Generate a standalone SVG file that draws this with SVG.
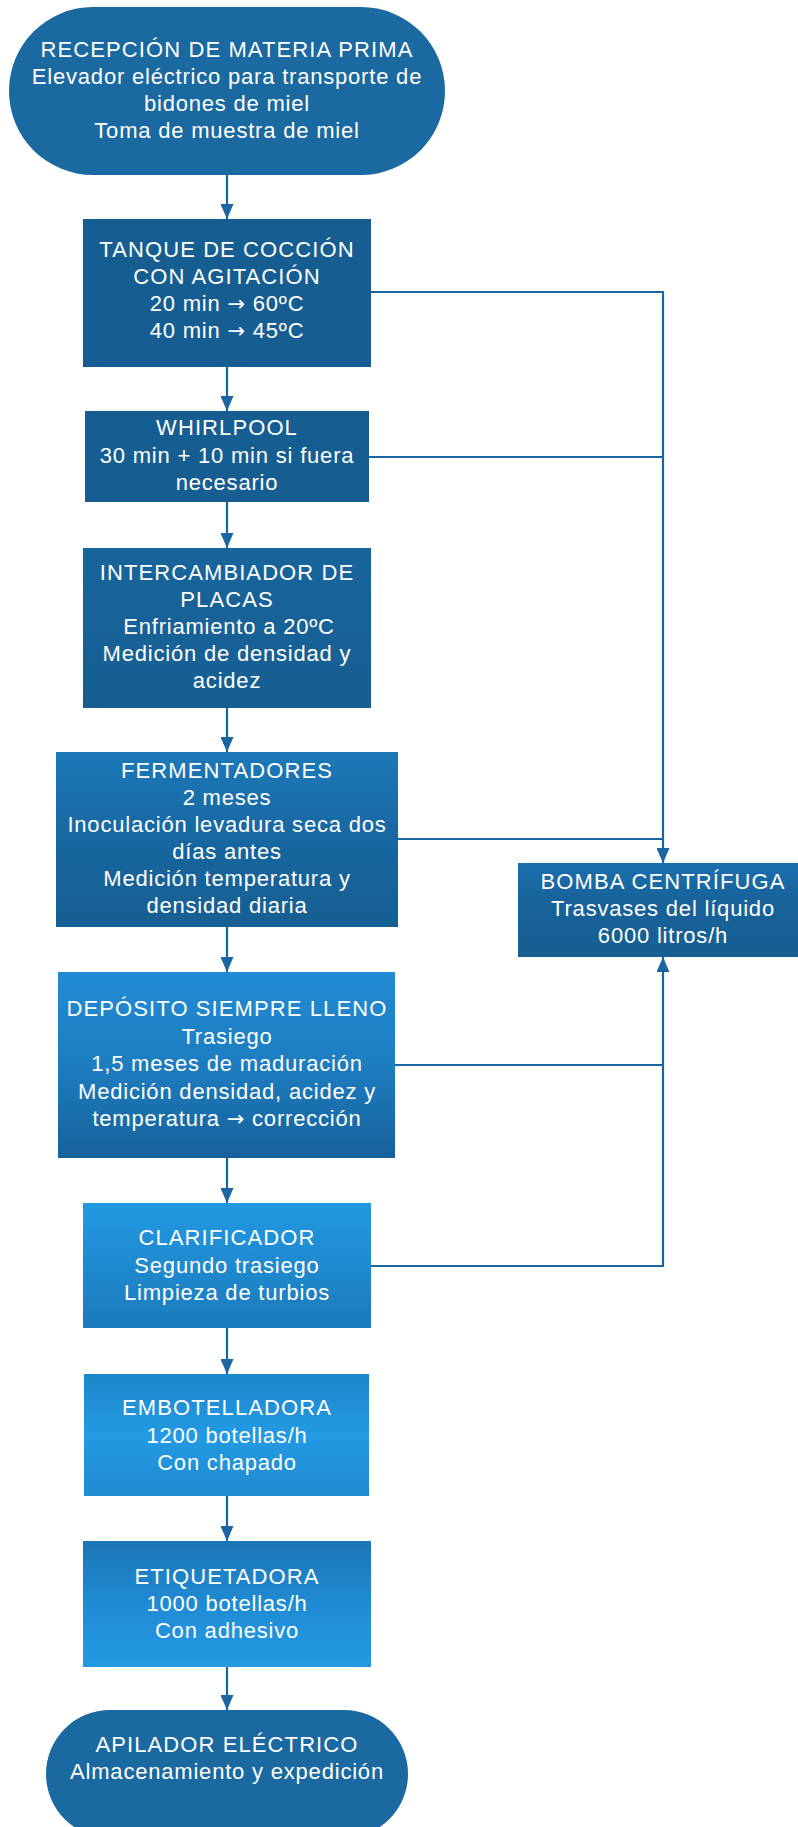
<svg xmlns="http://www.w3.org/2000/svg" width="798" height="1827" viewBox="0 0 798 1827">
<style>
  text { font-family: "Liberation Sans", Arial, sans-serif; font-size: 22px; fill: #ffffff; text-anchor: middle; letter-spacing: 0.8px; }
  .cap { letter-spacing: 1.1px; }
  .arr { font-family: "DejaVu Sans", sans-serif; font-size: 21px; }
  .conn { fill: none; stroke: #1b65a0; stroke-width: 2.2; }
</style>
<defs>
  <marker id="ah" viewBox="0 0 15 13" refX="15" refY="6.5" markerWidth="15" markerHeight="13" markerUnits="userSpaceOnUse" orient="auto">
    <path d="M0,0 L15,6.5 L0,13 Z" fill="#1b65a0"/>
  </marker>
  <linearGradient id="gFerm" x1="0" y1="0" x2="0" y2="1">
    <stop offset="0" stop-color="#1c79b9"/>
    <stop offset="0.55" stop-color="#17659e"/>
    <stop offset="1" stop-color="#165f92"/>
  </linearGradient>
  <linearGradient id="gDep" x1="0" y1="0" x2="0" y2="1">
    <stop offset="0" stop-color="#218bd4"/>
    <stop offset="0.5" stop-color="#1d7dc0"/>
    <stop offset="1" stop-color="#17619a"/>
  </linearGradient>
  <linearGradient id="gClar" x1="0" y1="0" x2="0" y2="1">
    <stop offset="0" stop-color="#2299e3"/>
    <stop offset="1" stop-color="#1b7abb"/>
  </linearGradient>
  <linearGradient id="gEmb" x1="0" y1="0" x2="0" y2="1">
    <stop offset="0" stop-color="#1e86cb"/>
    <stop offset="0.5" stop-color="#239ae3"/>
    <stop offset="1" stop-color="#1f8bd0"/>
  </linearGradient>
  <linearGradient id="gEtiq" x1="0" y1="0" x2="0" y2="1">
    <stop offset="0" stop-color="#1b76b6"/>
    <stop offset="0.6" stop-color="#208fd8"/>
    <stop offset="1" stop-color="#239ae3"/>
  </linearGradient>
  <linearGradient id="gBomba" x1="0" y1="0" x2="0" y2="1">
    <stop offset="0" stop-color="#1a70ae"/>
    <stop offset="0.4" stop-color="#17629a"/>
    <stop offset="1" stop-color="#165f92"/>
  </linearGradient>
  <linearGradient id="gInter" x1="0" y1="0" x2="0" y2="1">
    <stop offset="0" stop-color="#17659c"/>
    <stop offset="1" stop-color="#165e91"/>
  </linearGradient>
</defs>

<g id="connectors">
  <line class="conn" x1="227" y1="175" x2="227" y2="219" marker-end="url(#ah)"/>
  <line class="conn" x1="227" y1="367" x2="227" y2="411" marker-end="url(#ah)"/>
  <line class="conn" x1="227" y1="502" x2="227" y2="548" marker-end="url(#ah)"/>
  <line class="conn" x1="227" y1="708" x2="227" y2="752" marker-end="url(#ah)"/>
  <line class="conn" x1="227" y1="927" x2="227" y2="972" marker-end="url(#ah)"/>
  <line class="conn" x1="227" y1="1158" x2="227" y2="1203" marker-end="url(#ah)"/>
  <line class="conn" x1="227" y1="1328" x2="227" y2="1374" marker-end="url(#ah)"/>
  <line class="conn" x1="227" y1="1496" x2="227" y2="1541" marker-end="url(#ah)"/>
  <line class="conn" x1="227" y1="1667" x2="227" y2="1710" marker-end="url(#ah)"/>
  <path class="conn" d="M371,292 H663 V863" marker-end="url(#ah)"/>
  <line class="conn" x1="369" y1="457" x2="663" y2="457"/>
  <line class="conn" x1="398" y1="839" x2="663" y2="839"/>
  <line class="conn" x1="395" y1="1065" x2="663" y2="1065"/>
  <path class="conn" d="M371,1266 H663 V957" marker-end="url(#ah)"/>
</g>

<g id="recepcion">
  <rect x="9" y="7" width="436" height="168" rx="84" ry="84" fill="#1a69a1"/>
  <text class="cap" x="227" y="57">RECEPCIÓN DE MATERIA PRIMA</text>
  <text x="227" y="84">Elevador eléctrico para transporte de</text>
  <text x="227" y="111">bidones de miel</text>
  <text x="227" y="138">Toma de muestra de miel</text>
</g>

<g id="tanque">
  <rect x="83" y="219" width="288" height="148" fill="#165e91"/>
  <text class="cap" x="227" y="257">TANQUE DE COCCIÓN</text>
  <text class="cap" x="227" y="284">CON AGITACIÓN</text>
  <text x="227" y="311">20 min <tspan class="arr">→</tspan> 60ºC</text>
  <text x="227" y="338">40 min <tspan class="arr">→</tspan> 45ºC</text>
</g>

<g id="whirlpool">
  <rect x="85" y="411" width="284" height="91" fill="#165e91"/>
  <text class="cap" x="227" y="435">WHIRLPOOL</text>
  <text x="227" y="463">30 min + 10 min si fuera</text>
  <text x="227" y="490">necesario</text>
</g>

<g id="intercambiador">
  <rect x="83" y="548" width="288" height="160" fill="url(#gInter)"/>
  <text class="cap" x="227" y="580">INTERCAMBIADOR DE</text>
  <text class="cap" x="227" y="607">PLACAS</text>
  <text x="229" y="634">Enfriamiento a 20ºC</text>
  <text x="227" y="661">Medición de densidad y</text>
  <text x="227" y="688">acidez</text>
</g>

<g id="fermentadores">
  <rect x="56" y="752" width="342" height="175" fill="url(#gFerm)"/>
  <text class="cap" x="227" y="778">FERMENTADORES</text>
  <text x="227" y="805">2 meses</text>
  <text x="227" y="832">Inoculación levadura seca dos</text>
  <text x="227" y="859">días antes</text>
  <text x="227" y="886">Medición temperatura y</text>
  <text x="227" y="913">densidad diaria</text>
</g>

<g id="bomba">
  <rect x="518" y="863" width="290" height="94" fill="url(#gBomba)"/>
  <text class="cap" x="663" y="889">BOMBA CENTRÍFUGA</text>
  <text x="663" y="916">Trasvases del líquido</text>
  <text x="663" y="943">6000 litros/h</text>
</g>

<g id="deposito">
  <rect x="58" y="972" width="337" height="186" fill="url(#gDep)"/>
  <text class="cap" x="227" y="1016">DEPÓSITO SIEMPRE LLENO</text>
  <text x="227" y="1044">Trasiego</text>
  <text x="227" y="1071">1,5 meses de maduración</text>
  <text x="227" y="1099">Medición densidad, acidez y</text>
  <text x="227" y="1126">temperatura <tspan class="arr">→</tspan> corrección</text>
</g>

<g id="clarificador">
  <rect x="83" y="1203" width="288" height="125" fill="url(#gClar)"/>
  <text class="cap" x="227" y="1245">CLARIFICADOR</text>
  <text x="227" y="1273">Segundo trasiego</text>
  <text x="227" y="1300">Limpieza de turbios</text>
</g>

<g id="embotelladora">
  <rect x="84" y="1374" width="285" height="122" fill="url(#gEmb)"/>
  <text class="cap" x="227" y="1415">EMBOTELLADORA</text>
  <text x="227" y="1443">1200 botellas/h</text>
  <text x="227" y="1470">Con chapado</text>
</g>

<g id="etiquetadora">
  <rect x="83" y="1541" width="288" height="126" fill="url(#gEtiq)"/>
  <text class="cap" x="227" y="1584">ETIQUETADORA</text>
  <text x="227" y="1611">1000 botellas/h</text>
  <text x="227" y="1638">Con adhesivo</text>
</g>

<g id="apilador">
  <rect x="46" y="1710" width="362" height="128" rx="64" ry="64" fill="#1a69a1"/>
  <text class="cap" x="227" y="1752">APILADOR ELÉCTRICO</text>
  <text x="227" y="1779">Almacenamiento y expedición</text>
</g>
</svg>
